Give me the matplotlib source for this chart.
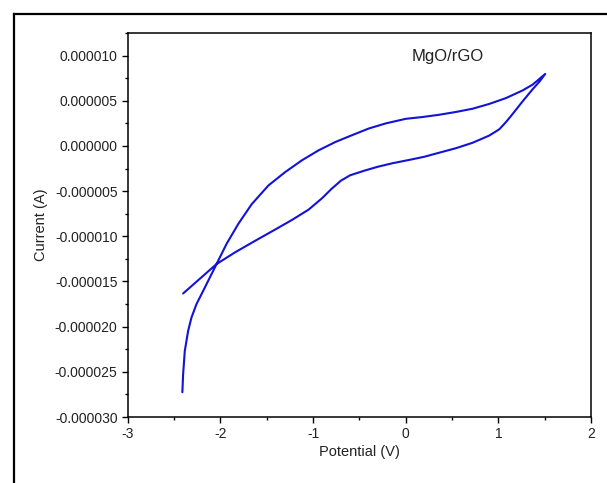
import matplotlib
matplotlib.use("Agg")
import matplotlib.pyplot as plt
from matplotlib.lines import Line2D
from matplotlib.ticker import MultipleLocator, FuncFormatter, FixedLocator
import numpy as np

plt.rcParams['font.family'] = ['Liberation Sans', 'DejaVu Sans']

# Cyclic voltammogram of MgO/rGO: potential (V) and current (microamps)
# Cathodic branch (lower curve), from the low-potential end up to the vertex
low_potential = [-2.402, -2.041, -1.842, -1.625, -1.408, -1.229, -1.048, -0.904,
                 -0.800, -0.700, -0.600, -0.450, -0.300, -0.145, 0.036, 0.200,
                 0.361, 0.542, 0.722, 0.902, 1.011, 1.083, 1.155, 1.263,
                 1.372, 1.444, 1.506]
low_current_uA = [-16.33, -13.07, -11.78, -10.50, -9.25, -8.20, -7.05, -5.80,
                  -4.75, -3.85, -3.25, -2.75, -2.30, -1.92, -1.55, -1.20,
                  -0.75, -0.25, 0.35, 1.15, 1.85, 2.65, 3.55, 4.95,
                  6.30, 7.12, 7.97]

# Anodic branch (upper curve), from the vertex back down to the low end
up_potential = [1.506, 1.372, 1.263, 1.083, 0.902, 0.722, 0.542, 0.361,
                0.180, 0.000, -0.217, -0.398, -0.579, -0.758, -0.939, -1.120,
                -1.300, -1.481, -1.662, -1.806, -1.933, -2.041, -2.095, -2.185,
                -2.258, -2.312, -2.348, -2.384, -2.402, -2.410]
up_current_uA = [7.97, 6.80, 6.15, 5.30, 4.65, 4.12, 3.76, 3.45,
                 3.20, 3.00, 2.49, 1.93, 1.19, 0.44, -0.48, -1.59,
                 -2.89, -4.37, -6.45, -8.62, -10.84, -13.07, -14.18, -16.03,
                 -17.51, -19.00, -20.48, -22.70, -25.29, -27.26]

x_ticks = [-3, -2, -1, 0, 1, 2]
y_ticks = [-0.000030, -0.000025, -0.000020, -0.000015, -0.000010, -0.000005,
           0.000000, 0.000005, 0.000010]
sample_label = "MgO/rGO"

W, H = 607, 483
fig = plt.figure(figsize=(W / 100, H / 100), dpi=100)
fig.patch.set_facecolor('white')

ax = fig.add_axes([127.7 / W, 1 - 417 / H, (591 - 127.7) / W, (417 - 33) / H])

potential = np.array(low_potential + up_potential[1:])
current = np.array(low_current_uA + up_current_uA[1:]) * 1e-6
ax.plot(potential, current, color='#1212d8', lw=1.5,
        solid_joinstyle='round', solid_capstyle='round')

ax.set_xlim(-3, 2)
ax.set_ylim(-0.000030, 0.0000125)
ax.xaxis.set_major_locator(FixedLocator(x_ticks))
ax.xaxis.set_minor_locator(MultipleLocator(0.5))
ax.yaxis.set_major_locator(FixedLocator(y_ticks))
ax.yaxis.set_minor_locator(MultipleLocator(0.0000025))
ax.yaxis.set_major_formatter(FuncFormatter(lambda v, p: f"{round(v, 7) + 0.0:.6f}"))
ax.xaxis.set_major_formatter(FuncFormatter(lambda v, p: f"{v:g}"))

ax.tick_params(which='major', direction='out', length=4.3, width=1.0,
               labelsize=10, pad=3, colors='black', labelcolor='#222222')
ax.tick_params(which='minor', direction='out', length=2.3, width=1.0)
ax.tick_params(top=False, right=False, which='both')
for s in ax.spines.values():
    s.set_linewidth(1.1)
    s.set_color('black')

ax.set_xlabel("Potential (V)", fontsize=10.5, labelpad=3, color='#222222')
ax.set_ylabel("Current (A)", fontsize=10.5, labelpad=5, color='#222222')

ax.text(0.068, 0.0000099, sample_label, fontsize=12, va='center', ha='left',
        color='#222222')

# Frame lines along the left and top of the figure
fig.add_artist(Line2D([14 / W, 14 / W], [0, 1 - 14 / H], transform=fig.transFigure,
                      color='black', lw=1.6))
fig.add_artist(Line2D([14 / W, 1], [1 - 14 / H, 1 - 14 / H], transform=fig.transFigure,
                      color='black', lw=1.6))

fig.savefig("out.png", dpi=100)
